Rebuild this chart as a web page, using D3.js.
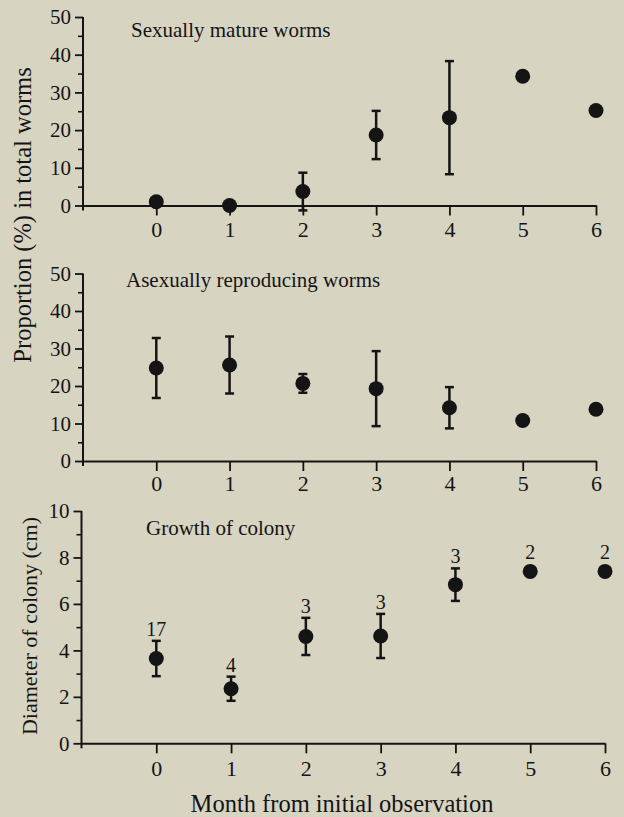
<!DOCTYPE html>
<html>
<head>
<meta charset="utf-8">
<script src="https://cdn.jsdelivr.net/npm/d3@7"></script>
<style>
  html, body { margin: 0; padding: 0; background: #d8d4c2; }
  svg { display: block; }
</style>
</head>
<body>
<svg id="chart" width="624" height="817"></svg>
<script>
// months on the x axis
const months = [0, 1, 2, 3, 4, 5, 6];

// sexually mature worms (% of total), mean and error
const matureMean = [1, 0, 3.7, 18.7, 23.3, 34.3, 25.2];
const matureErr  = [0, 0, 5.0, 6.4, 15.0, 0, 0];

// asexually reproducing worms (%), mean and error
const asexMean = [24.8, 25.6, 20.7, 19.3, 14.2, 10.8, 13.8];
const asexErr  = [8.0, 7.6, 2.5, 10.0, 5.5, 0, 0];

// colony diameter (cm), mean, error and number of colonies
const diamMean = [3.65, 2.35, 4.6, 4.62, 6.83, 7.4, 7.4];
const diamErr  = [0.76, 0.52, 0.8, 0.95, 0.7, 0, 0];
const colonyN  = [17, 4, 3, 3, 3, 2, 2];

const percentTicks = [0, 10, 20, 30, 40, 50];
const percentMinor = [5, 15, 25, 35, 45];
const diamTicks = [0, 2, 4, 6, 8, 10];
const diamMinor = [1, 3, 5, 7, 9];

const panelTitles = ["Sexually mature worms", "Asexually reproducing worms", "Growth of colony"];

const ink = "#141414";
const font = "'Liberation Serif', 'Times New Roman', serif";

const svg = d3.select("#chart");
svg.append("rect").attr("width", 624).attr("height", 817).attr("fill", "#d8d4c2");

const panels = [
  {mean: matureMean, err: matureErr, ticks: percentTicks, minor: percentMinor, max: 50,
   xr: [83, 596], yr: [205.5, 17], title: panelTitles[0], tx: 131, ty: 37, lab: 31},
  {mean: asexMean, err: asexErr, ticks: percentTicks, minor: percentMinor, max: 50,
   xr: [83, 596], yr: [461, 273.5], title: panelTitles[1], tx: 126, ty: 287, lab: 30},
  {mean: diamMean, err: diamErr, ticks: diamTicks, minor: diamMinor, max: 10,
   xr: [81.5, 605], yr: [743.3, 511], title: panelTitles[2], tx: 146, ty: 535, lab: 33, counts: colonyN}
];

panels.forEach(p => {
  const x = d3.scaleLinear().domain([-1, 6]).range(p.xr);
  const y = d3.scaleLinear().domain([0, p.max]).range(p.yr);
  const g = svg.append("g");

  // y axis: major ticks with labels
  const yAxis = g.append("g")
    .attr("transform", "translate(" + p.xr[0] + ",0)")
    .call(d3.axisLeft(y).tickValues(p.ticks).tickSize(8).tickPadding(4).tickSizeOuter(0));
  yAxis.select(".domain").remove();
  yAxis.selectAll("line").attr("stroke", ink).attr("stroke-width", 1.8);
  yAxis.selectAll("text").attr("fill", ink).style("font-family", font).style("font-size", "21px");

  // minor ticks
  g.append("g")
    .attr("transform", "translate(" + p.xr[0] + ",0)")
    .call(d3.axisLeft(y).tickValues(p.minor).tickSize(5).tickFormat(""))
    .call(a => a.select(".domain").remove())
    .selectAll("line").attr("stroke", ink).attr("stroke-width", 1.6);

  // vertical axis line, running a bit below the x axis
  g.append("line")
    .attr("x1", p.xr[0]).attr("x2", p.xr[0])
    .attr("y1", y(p.max)).attr("y2", y(0) + 5)
    .attr("stroke", ink).attr("stroke-width", 2);

  // x axis
  const xAxis = g.append("g")
    .attr("transform", "translate(0," + y(0) + ")")
    .call(d3.axisBottom(x).tickValues(months).tickFormat(d3.format("d")).tickSize(10).tickSizeOuter(0));
  xAxis.select(".domain").attr("stroke", ink).attr("stroke-width", 2);
  xAxis.selectAll("line").attr("stroke", ink).attr("stroke-width", 1.8);
  xAxis.selectAll("text")
    .attr("y", p.lab).attr("dy", null)
    .attr("fill", ink).style("font-family", font).style("font-size", "22px");

  // panel title
  g.append("text")
    .attr("x", p.tx).attr("y", p.ty)
    .attr("fill", ink).style("font-family", font).style("font-size", "21px")
    .text(p.title);

  // error bars
  const bars = g.selectAll(".err")
    .data(months.filter(i => p.err[i] > 0))
    .enter().append("g");
  bars.append("line")
    .attr("x1", d => x(d)).attr("x2", d => x(d))
    .attr("y1", d => y(p.mean[d] - p.err[d])).attr("y2", d => y(p.mean[d] + p.err[d]))
    .attr("stroke", ink).attr("stroke-width", 2.5);
  [-1, 1].forEach(s => {
    bars.append("line")
      .attr("x1", d => x(d) - 4.5).attr("x2", d => x(d) + 4.5)
      .attr("y1", d => y(p.mean[d] + s * p.err[d])).attr("y2", d => y(p.mean[d] + s * p.err[d]))
      .attr("stroke", ink).attr("stroke-width", 2.5);
  });

  // points
  g.selectAll(".pt")
    .data(months)
    .enter().append("circle")
    .attr("cx", d => x(d)).attr("cy", d => y(p.mean[d]))
    .attr("r", 7.5)
    .attr("fill", ink);

  // sample sizes above the points
  if (p.counts) {
    g.selectAll(".n")
      .data(months)
      .enter().append("text")
      .attr("x", d => x(d))
      .attr("y", d => Math.min(y(p.mean[d] + p.err[d]), y(p.mean[d]) - 7.5) - 5)
      .attr("text-anchor", "middle")
      .attr("fill", ink).style("font-family", font).style("font-size", "20px")
      .text(d => p.counts[d]);
  }
});

// axis titles
svg.append("text")
  .attr("transform", "translate(31,215) rotate(-90)")
  .attr("text-anchor", "middle")
  .attr("fill", ink).style("font-family", font).style("font-size", "24.5px")
  .text("Proportion (%) in total worms");

svg.append("text")
  .attr("transform", "translate(37,626) rotate(-90)")
  .attr("text-anchor", "middle")
  .attr("fill", ink).style("font-family", font).style("font-size", "22px")
  .text("Diameter of colony (cm)");

svg.append("text")
  .attr("x", 342).attr("y", 812)
  .attr("text-anchor", "middle")
  .attr("fill", ink).style("font-family", font).style("font-size", "24.5px")
  .text("Month from initial observation");
</script>
</body>
</html>
